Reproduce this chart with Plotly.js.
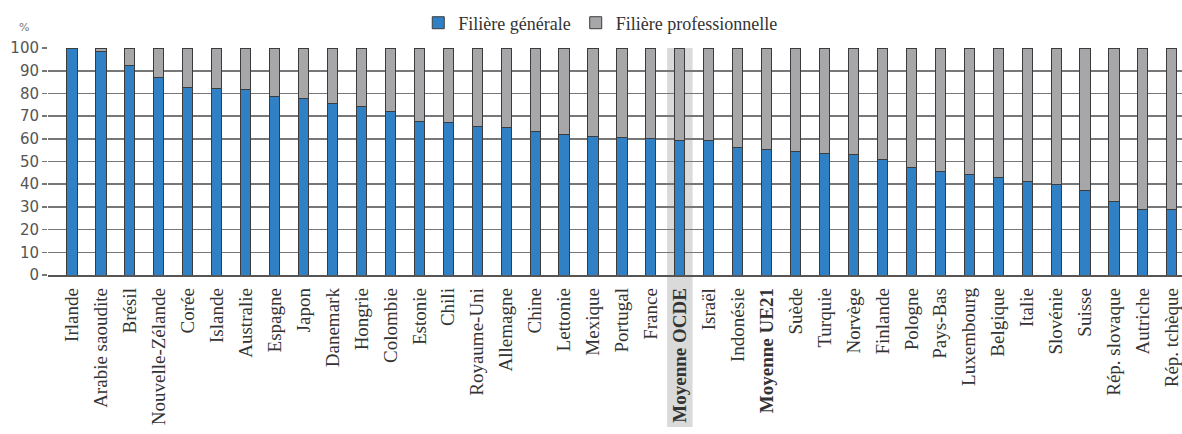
<!DOCTYPE html>
<html>
<head>
<meta charset="utf-8">
<script src="https://cdn.plot.ly/plotly-3.0.1.min.js"></script>
<style>
html,body{margin:0;padding:0;background:#fff;}
#chart{width:1182px;height:434px;}
</style>
</head>
<body>
<div id="chart"></div>
<script>
const categories = ["Irlande","Arabie saoudite","Brésil","Nouvelle-Zélande","Corée","Islande","Australie","Espagne","Japon","Danemark","Hongrie","Colombie","Estonie","Chili","Royaume-Uni","Allemagne","Chine","Lettonie","Mexique","Portugal","France","Moyenne OCDE","Israël","Indonésie","Moyenne UE21","Suède","Turquie","Norvège","Finlande","Pologne","Pays-Bas","Luxembourg","Belgique","Italie","Slovénie","Suisse","Rép. slovaque","Autriche","Rép. tchèque"];
const generale = [100,98.6,92.2,86.8,82.5,82.1,81.8,78.7,77.8,75.7,74.2,72.1,67.8,67.1,65.5,64.8,63.4,61.9,61.2,60.7,60.1,59.4,59.3,56.0,55.1,54.3,53.6,53.1,51.1,47.5,45.6,44.1,42.9,41.2,40.0,37.2,32.4,28.7,28.7];
const professionnelle = [0,1.4,7.8,13.2,17.5,17.9,18.2,21.3,22.2,24.3,25.8,27.9,32.2,32.9,34.5,35.2,36.6,38.1,38.8,39.3,39.9,40.6,40.7,44.0,44.9,45.7,46.4,46.9,48.9,52.5,54.4,55.9,57.1,58.8,60.0,62.8,67.6,71.3,71.3];
const seriesNames = ["Filière générale","Filière professionnelle"];
const yTicks = [0,10,20,30,40,50,60,70,80,90,100];
const highlighted = "Moyenne OCDE";

const tickText = categories.map(c => c.startsWith("Moyenne") ? "<b>" + c + "</b>" : c);
const hi = categories.indexOf(highlighted);

const traces = [
  {type:"bar", name:seriesNames[0], x:categories, y:generale, width:0.35,
   marker:{color:"#2f80c5", line:{color:"#3c3c3c", width:1}}},
  {type:"bar", name:seriesNames[1], x:categories, y:professionnelle, width:0.35,
   marker:{color:"#a7a7a9", line:{color:"#3c3c3c", width:1}}}
];

const layout = {
  width:1182, height:434,
  margin:{l:48, r:0, t:48, b:159},
  barmode:"stack",
  paper_bgcolor:"#ffffff",
  plot_bgcolor:"rgba(0,0,0,0)",
  font:{family:"Liberation Serif, serif", color:"#333"},
  showlegend:true,
  legend:{orientation:"h", x:0.487, xanchor:"center", y:1.11, yanchor:"middle",
    font:{family:"Liberation Serif, serif", size:18, color:"#333"},
    itemwidth:30, traceorder:"normal", bgcolor:"rgba(0,0,0,0)"},
  xaxis:{type:"category", range:[-0.83, categories.length - 0.65],
    tickmode:"array", tickvals:categories, ticktext:tickText, tickangle:-90,
    tickfont:{family:"Liberation Serif, serif", size:19, color:"#333"},
    showgrid:false, showline:true, linecolor:"#555", linewidth:1.5,
    ticks:"outside", ticklen:4, tickcolor:"rgba(0,0,0,0)", zeroline:false},
  yaxis:{range:[0,100], tickmode:"array", tickvals:yTicks,
    tickfont:{family:"DejaVu Sans, sans-serif", size:15, color:"#555"},
    showgrid:true, gridcolor:"#777777", gridwidth:1.6,
    ticks:"outside", ticklen:5, tickcolor:"#777777", tickwidth:1.6,
    showline:false, zeroline:false},
  shapes:[{type:"rect", layer:"below", xref:"x", yref:"paper",
    x0:hi-0.44, x1:hi+0.44, y0:-0.67, y1:1,
    fillcolor:"#dadada", line:{width:0}}],
  annotations:[{text:"%", xref:"paper", yref:"paper", x:-0.021, y:1.09,
    xanchor:"center", yanchor:"middle", showarrow:false,
    font:{family:"DejaVu Sans, sans-serif", size:11, color:"#777"}}]
};

Plotly.newPlot("chart", traces, layout, {displayModeBar:false, staticPlot:true});
</script>
</body>
</html>
